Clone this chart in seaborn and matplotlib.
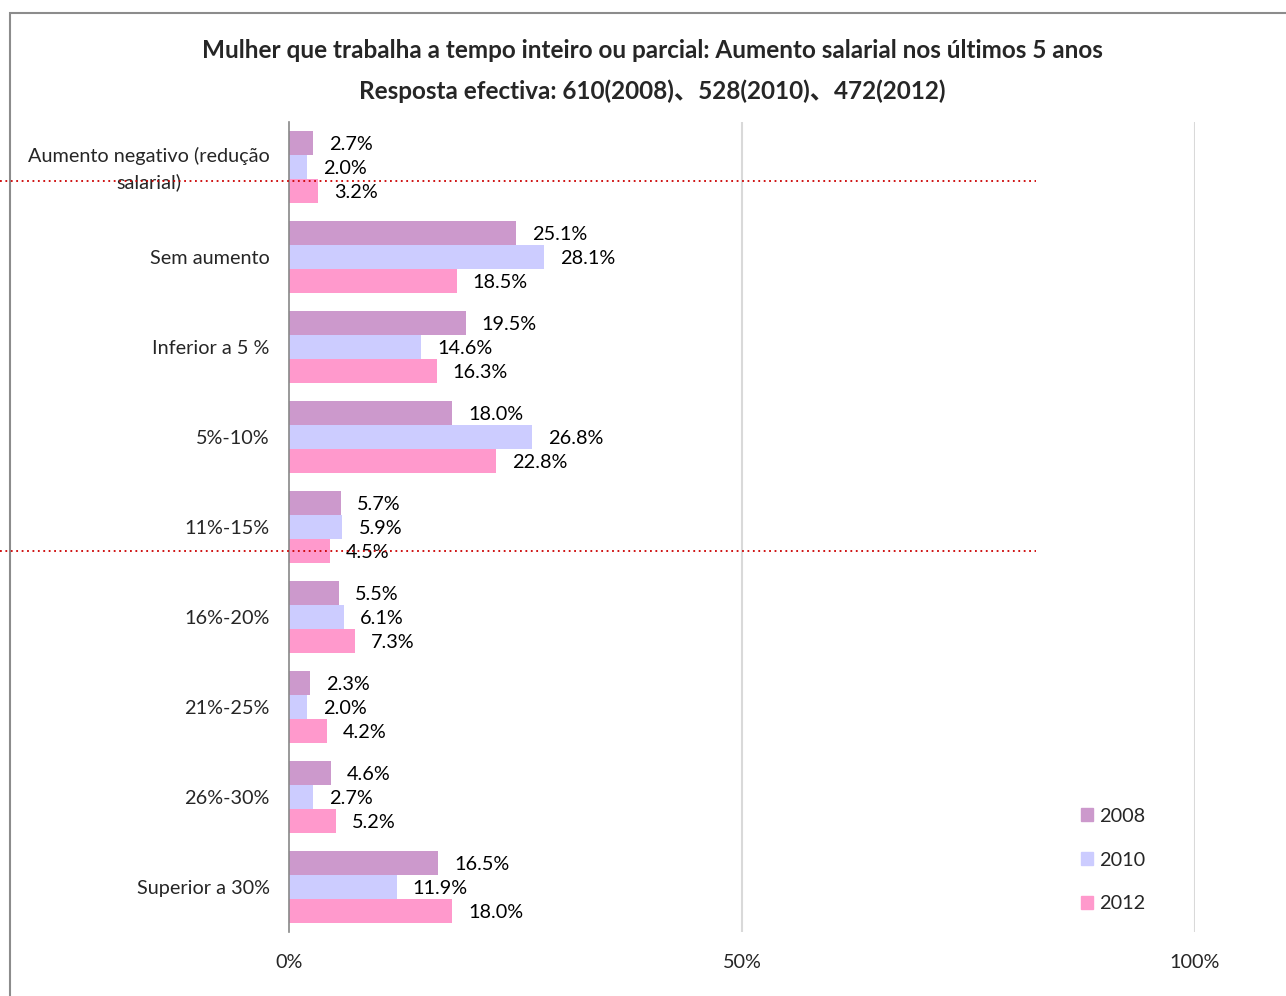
import numpy as np
import pandas as pd
import seaborn as sns
import matplotlib
matplotlib.use("Agg")
import matplotlib.pyplot as plt
import matplotlib.transforms as mtransforms
from matplotlib.lines import Line2D
from matplotlib.patches import Rectangle

categories = ["Aumento negativo (redução\nsalarial)", "Sem aumento", "Inferior a 5 %",
              "5%-10%", "11%-15%", "16%-20%", "21%-25%", "26%-30%", "Superior a 30%"]
years = ["2008", "2010", "2012"]
v2008 = [2.7, 25.1, 19.5, 18.0, 5.7, 5.5, 2.3, 4.6, 16.5]
v2010 = [2.0, 28.1, 14.6, 26.8, 5.9, 6.1, 2.0, 2.7, 11.9]
v2012 = [3.2, 18.5, 16.3, 22.8, 4.5, 7.3, 4.2, 5.2, 18.0]
colors = ["#CC99CC", "#CCCCFF", "#FF99CC"]
xticks = [0, 50, 100]
xticklabels = ["0%", "50%", "100%"]
title = "Mulher que trabalha a tempo inteiro ou parcial: Aumento salarial nos últimos 5 anos\nResposta efectiva: 610(2008)、528(2010)、472(2012)"

sns.set_style("white")
plt.rcParams["font.family"] = ["Lato", "Noto Sans CJK SC", "DejaVu Sans"]

rows = []
for y, vals in zip(years, [v2008, v2010, v2012]):
    for c, v in zip(categories, vals):
        rows.append({"cat": c, "year": y, "value": v})
df = pd.DataFrame(rows)

W, H = 1286, 996
fig = plt.figure(figsize=(W / 100, H / 100), dpi=100)
ax = fig.add_axes([289 / W, 1 - 932 / H, (1195 - 289) / W, (932 - 122) / H])

sns.barplot(data=df, y="cat", x="value", hue="year", order=categories, hue_order=years,
            palette=colors, saturation=1, orient="h", ax=ax, width=0.8, errorbar=None,
            edgecolor="none")

fs = 14.3
for cont in ax.containers:
    vals = cont.datavalues
    labs = ax.bar_label(cont, labels=[f"{v:.1f}%" for v in vals], padding=11.5, fontsize=fs,
                        color="#000000")
    for t in labs:
        t.set_va("center_baseline")

ax.set_xlim(0, 100)
ax.set_ylim(len(categories) - 0.5, -0.5)
ax.set_xticks(xticks)
ax.set_xticklabels(xticklabels, fontsize=fs)
ax.tick_params(axis="x", length=0, pad=16)
ax.tick_params(axis="y", length=0, pad=14, labelsize=fs)
for t in ax.get_yticklabels():
    t.set_multialignment("center")
    t.set_linespacing(1.6)
ax.set_xlabel("")
ax.set_ylabel("")
# nudge the two-line category label up slightly
first_lab = ax.get_yticklabels()[0]
first_lab.set_transform(first_lab.get_transform() +
                        mtransforms.ScaledTranslation(0, 4 / 100, fig.dpi_scale_trans))
for x in [50, 100]:
    ax.axvline(x, color="#D9D9D9", lw=1.5, zorder=0)
for s in ["top", "right", "bottom"]:
    ax.spines[s].set_visible(False)
ax.spines["left"].set_color("#888888")
ax.spines["left"].set_linewidth(1.2)

ax.legend_.remove()
handles = [Rectangle((0, 0), 1, 1, color=c) for c in colors]
fig.legend(handles, years, loc="center left", bbox_to_anchor=(1081 / W, 1 - 860 / H),
           frameon=False, fontsize=fs, handlelength=0.6, handleheight=0.6,
           handletextpad=0.3, labelspacing=1.35, borderpad=0, borderaxespad=0)

fig.text(652 / W, 1 - 71 / H, title, ha="center", va="center", fontsize=17.5,
         fontweight="bold", linespacing=1.84, multialignment="center")

fig.add_artist(Rectangle((10 / W, -0.1), 1.2, (1 - 13 / H) + 0.1, transform=fig.transFigure,
                         fill=False, edgecolor="#8C8C8C", lw=1.5))
for yy in [181, 551]:
    fig.add_artist(Line2D([0, 1036 / W], [1 - yy / H] * 2, transform=fig.transFigure,
                          color="#CC0000", linestyle=(0, (1, 2)), lw=1.3))

fig.savefig("out.png", dpi=100)
